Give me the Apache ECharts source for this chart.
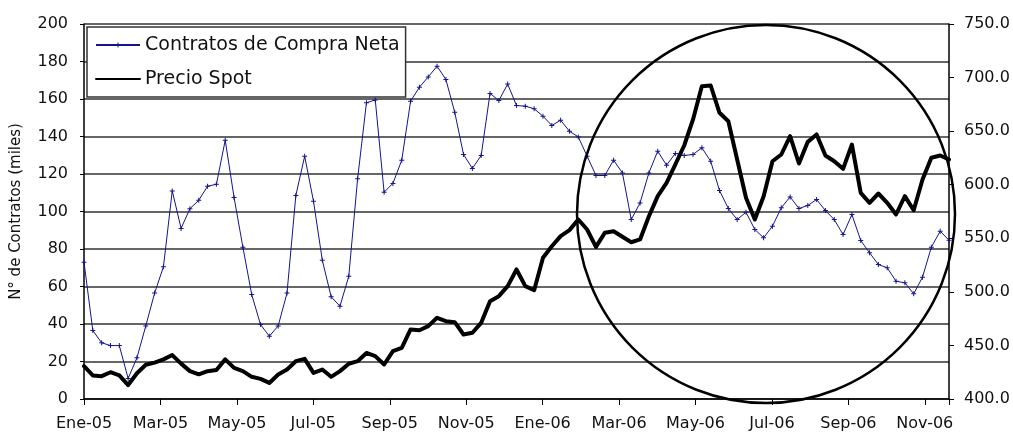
<!DOCTYPE html>
<html>
<head>
<meta charset="utf-8">
<script src="https://cdn.jsdelivr.net/npm/echarts@6/dist/echarts.min.js"></script>
<style>
  html, body { margin: 0; padding: 0; background: #fff; }
  #main { width: 1013px; height: 435px; }
</style>
</head>
<body>
<div id="main"></div>
<script>
// etiquetas del eje X (cada dos meses)
const monthLabels = ['Ene-05', 'Mar-05', 'May-05', 'Jul-05', 'Sep-05', 'Nov-05',
  'Ene-06', 'Mar-06', 'May-06', 'Jul-06', 'Sep-06', 'Nov-06']
const weeksPerTick = 8.66

// contratos de compra neta (miles), semanal
const contratos = [
  73, 36.5, 30, 28.5, 28.5, 11, 22, 39, 56.5, 70.5,
  111, 91, 101.5, 106, 113.5, 114.5, 138, 107.5, 81, 55.7,
  39.7, 33.5, 39, 56.5, 108.5, 129.5, 105.5, 74, 54.5, 49.5,
  65.5, 117.5, 158, 159.5, 110.3, 115, 127.4, 158.8, 166.3, 171.8,
  177.5, 170.4, 153, 130.4, 123, 129.9, 163, 159.2, 168, 156.5,
  156.2, 154.8, 150.8, 145.9, 148.7, 142.8, 139.8, 129.5, 119.2, 119.2,
  127.4, 120.6, 95.7, 104.6, 120.6, 132.2, 124.7, 131, 129.9, 130.4,
  134, 126.8, 111.2, 101.6, 95.7, 99.6, 90.4, 86, 92.2, 102,
  107.8, 101.6, 103.2, 106.4, 100.5, 95.7, 87.7, 98.4, 84.5, 78,
  71.7, 70, 62.8, 62, 56.1, 65, 81, 89.5, 84.7
]

// precio spot, semanal
const precio = [
  430.6, 422, 421.3, 425, 422, 413, 424, 432, 434, 437,
  441, 433, 426, 423, 426, 427, 437, 429, 426, 420.7,
  418.8, 415, 422.8, 427.5, 435.3, 437.5, 424.4, 427.5, 420.7, 426,
  432.9, 435.3, 443, 440, 432.2, 444.6, 447.8, 464.9, 464.2, 468,
  475.8, 472.6, 471.7, 460.2, 461.8, 471.1, 491.3, 496, 505.3, 520.9,
  505.3, 501.5, 531.8, 542.6, 552, 557.6, 567.5, 558.2, 542, 555.1,
  556.6, 551.4, 546.3, 548.9, 570.6, 589.3, 601.8, 618.9, 636.6, 660.9,
  692, 692.6, 667.1, 659.3, 623.5, 587.8, 567.5, 589.3, 621.9, 628.2,
  645.3, 619.8, 640, 646.9, 627.3, 621.9, 614.8, 637.5, 592.4, 583.1,
  591.8, 583.1, 572.2, 589.3, 576.2, 604.9, 625.2, 627.3, 623.5
]

const fontFamily = 'DejaVu Sans'
const plusSymbol = 'path://M2,0 H3 V2 H5 V3 H3 V5 H2 V3 H0 V2 H2 Z'

const myChart = echarts.init(document.getElementById('main'))

myChart.setOption({
  animation: false,
  textStyle: { fontFamily: fontFamily, color: '#111' },
  grid: {
    left: 84,
    right: 64,
    top: 24,
    bottom: 36
  },
  legend: {
    orient: 'vertical',
    left: 87,
    top: 27,
    padding: [8, 6, 8, 8],
    itemWidth: 44,
    itemHeight: 6,
    itemGap: 14,
    backgroundColor: '#fff',
    borderColor: '#333',
    borderWidth: 1.5,
    borderRadius: 0,
    textStyle: { fontFamily: fontFamily, fontSize: 19, lineHeight: 20, color: '#111' },
    data: [
      { name: 'Contratos de Compra Neta' },
      { name: 'Precio Spot', itemStyle: { opacity: 0 } }
    ]
  },
  xAxis: {
    type: 'value',
    min: 0,
    max: contratos.length - 1,
    interval: weeksPerTick,
    axisLine: { lineStyle: { color: '#000', width: 1.5 } },
    axisTick: { length: 6, lineStyle: { color: '#000' } },
    splitLine: { show: false },
    axisLabel: {
      fontSize: 16,
      margin: 17,
      color: '#111',
      formatter: v => {
        const idx = Math.round(v / weeksPerTick)
        if (Math.abs(v - idx * weeksPerTick) > 0.01) return ''
        return monthLabels[idx] || ''
      }
    }
  },
  yAxis: [
    {
      type: 'value',
      min: 0,
      max: 200,
      interval: 20,
      name: 'N° de Contratos (miles)',
      nameLocation: 'middle',
      nameRotate: 90,
      nameGap: 60,
      nameTextStyle: { fontSize: 15, color: '#111' },
      axisLine: { show: true, lineStyle: { color: '#000', width: 1.5 } },
      axisTick: { show: true, length: 4, lineStyle: { color: '#000' } },
      axisLabel: { fontSize: 16, margin: 16, color: '#111' },
      splitLine: { lineStyle: { color: '#333', width: 1.5 } }
    },
    {
      type: 'value',
      position: 'right',
      min: 400,
      max: 750,
      interval: 50,
      axisLine: { show: true, lineStyle: { color: '#000', width: 1.5 } },
      axisTick: { show: true, length: 5, lineStyle: { color: '#000' } },
      axisLabel: { fontSize: 16, margin: 15, color: '#111', formatter: v => v.toFixed(1) },
      splitLine: { show: false }
    }
  ],
  series: [
    {
      name: 'Contratos de Compra Neta',
      type: 'line',
      yAxisIndex: 0,
      data: contratos.map((v, i) => [i, v]),
      symbol: plusSymbol,
      symbolSize: 5,
      showAllSymbol: true,
      itemStyle: { color: '#14148c' },
      lineStyle: { color: '#14148c', width: 1 },
      z: 3
    },
    {
      name: 'Precio Spot',
      type: 'line',
      yAxisIndex: 1,
      data: precio.map((v, i) => [i, v]),
      symbol: 'none',
      itemStyle: { color: '#000' },
      lineStyle: { color: '#000', width: 4, join: 'round', cap: 'round' },
      z: 4
    }
  ],
  graphic: [
    {
      type: 'circle',
      shape: { cx: 766, cy: 214, r: 189 },
      style: { fill: 'none', stroke: '#000', lineWidth: 2.5 },
      z: 10
    }
  ]
})
</script>
</body>
</html>
